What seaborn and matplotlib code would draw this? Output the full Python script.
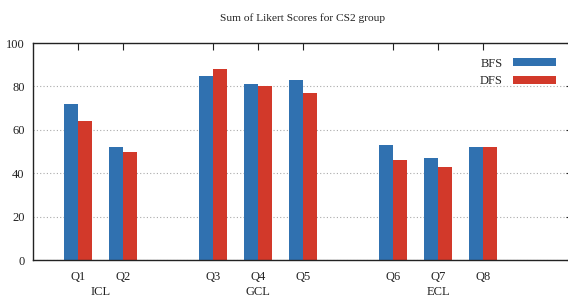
"""
Sum of Likert Scores for CS2 group
grouped bar chart, gnuplot look
"""

import pandas as pd
import matplotlib
matplotlib.use("Agg")
import matplotlib.pyplot as plt
import matplotlib.transforms as mtransforms
import seaborn as sns

sns.set_style("white")
plt.rcParams["font.family"] = ["Liberation Serif", "DejaVu Serif"]

########################################################

questions = ["Q1", "Q2", "Q3", "Q4", "Q5", "Q6", "Q7", "Q8"]
positions = [0, 1, 3, 4, 5, 7, 8, 9]
bfs_scores = [72, 52, 85, 81, 83, 53, 47, 52]
dfs_scores = [64, 50, 88, 80, 77, 46, 43, 52]
groups = ["ICL", "GCL", "ECL"]
group_centers = [0.5, 4, 8]
y_ticks = [0, 20, 40, 60, 80, 100]

########################################################

df = pd.DataFrame({
    "pos": positions * 2,
    "score": bfs_scores + dfs_scores,
    "method": ["BFS"] * len(questions) + ["DFS"] * len(questions),
})

fig = plt.figure(figsize=(5.68, 2.99), dpi=100)
ax = fig.add_axes([0.058, 0.13, 0.951, 0.726])

sns.barplot(
    data=df,
    x="pos",
    y="score",
    hue="method",
    native_scale=True,
    width=0.64,
    palette=["#3071b0", "#d2392a"],
    saturation=1,
    edgecolor="none",
    linewidth=0,
    ax=ax,
    zorder=2,
)

ax.set_xlim(-1, 11)
ax.set_ylim(0, 100)
ax.set_yticks(y_ticks)
ax.set_xticks(positions)
ax.set_xticklabels(questions)
ax.set_xlabel("")
ax.set_ylabel("")

ax.yaxis.grid(True, linestyle=(0, (1, 2)), color="#aaaaaa", linewidth=0.8, zorder=0)
ax.set_axisbelow(True)

for side in ["left", "bottom", "top", "right"]:
    ax.spines[side].set_visible(True)
    ax.spines[side].set_color("#222222")
    ax.spines[side].set_linewidth(1.0)

ax.tick_params(
    axis="both", direction="in", length=5, width=0.8,
    top=True, right=True, labelsize=9, colors="#222222",
)
ax.tick_params(axis="x", pad=8)
ax.tick_params(axis="y", pad=6)

trans = mtransforms.blended_transform_factory(ax.transData, ax.transAxes)
for name, center in zip(groups, group_centers):
    ax.text(center, -0.118, name, transform=trans, ha="center", va="top",
            fontsize=9, color="#222222")

ax.set_title("Sum of Likert Scores for CS2 group", fontsize=8.2, pad=16,
             color="#222222")

handles, labels = ax.get_legend_handles_labels()
ax.legend(
    handles, labels,
    loc="upper right",
    bbox_to_anchor=(0.99, 0.985),
    frameon=False,
    markerfirst=False,
    fontsize=9,
    handlelength=3.5,
    handleheight=0.65,
    labelspacing=0.45,
    handletextpad=0.8,
)

fig.savefig("out.png", dpi=100)
plt.close()
